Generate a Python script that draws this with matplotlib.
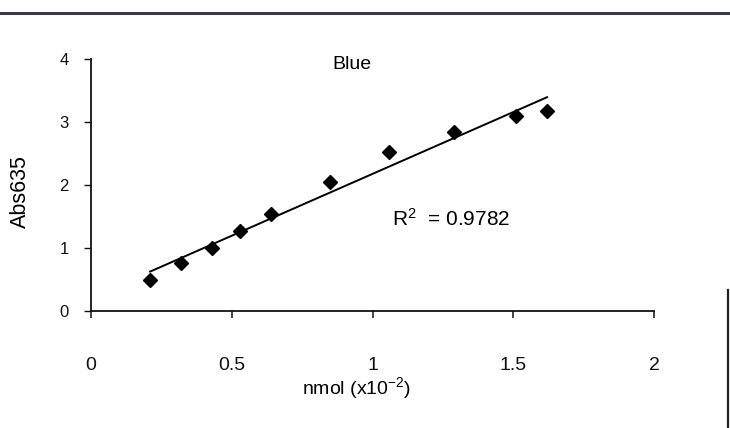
import numpy as np
import matplotlib
matplotlib.use("Agg")
import matplotlib.pyplot as plt
from matplotlib.lines import Line2D

plt.rcParams["font.family"] = ["Liberation Sans", "DejaVu Sans"]
plt.rcParams["mathtext.fontset"] = "custom"
plt.rcParams["mathtext.rm"] = "Liberation Sans"
plt.rcParams["mathtext.it"] = "Liberation Sans"

# Absorbance at 635 nm versus amount of dye (nmol x 10^-2)
nmol = [0.21, 0.32, 0.43, 0.53, 0.64, 0.85, 1.06, 1.29, 1.51, 1.62]
abs635 = [0.49, 0.76, 1.00, 1.27, 1.54, 2.05, 2.52, 2.84, 3.10, 3.17]
x_ticks = [0, 0.5, 1, 1.5, 2]
x_tick_labels = ["0", "0.5", "1", "1.5", "2"]
y_ticks = [0, 1, 2, 3, 4]
r_squared = "0.9782"

fig = plt.figure(figsize=(7.30, 4.28), dpi=100)
ax = fig.add_axes([91 / 730, 1 - 311 / 428, (654 - 91) / 730, (311 - 59) / 428])

x = np.array(nmol)
y = np.array(abs635)
slope, intercept = np.polyfit(x, y, 1)
xf = np.array([x.min(), x.max()])
ax.plot(xf, slope * xf + intercept, color="black", lw=1.4, zorder=2)
ax.plot(x, y, linestyle="none", marker="D", markersize=7.3,
        color="black", zorder=3)

ax.set_xlim(0, 2)
ax.set_ylim(0, 4)
ax.set_xticks(x_ticks)
ax.set_xticklabels(x_tick_labels)
ax.set_yticks(y_ticks)

for side in ("top", "right"):
    ax.spines[side].set_visible(False)
for side in ("left", "bottom"):
    ax.spines[side].set_linewidth(1.3)
    ax.spines[side].set_color("#111111")

ax.tick_params(axis="x", direction="out", length=5, width=1.1,
               labelsize=14, pad=28, colors="#111111")
ax.tick_params(axis="y", direction="out", length=5, width=1.0,
               labelsize=12, pad=11, colors="#111111")

ax.text(0.927, 3.92, "Blue", fontsize=14, ha="center", va="center")
ax.text(1.07, 1.47, r"R$^{\mathregular{2}}$  = " + r_squared,
        fontsize=15, ha="left", va="center")

fig.text(357 / 730, 1 - 388 / 428, r"nmol (x10$^{\mathregular{-2}}$)",
         fontsize=14, ha="center", va="center")
fig.text(20 / 730, 1 - 192 / 428, "Abs635", fontsize=15.5, rotation=90,
         ha="center", va="center")

# scanned page edges
fig.add_artist(Line2D([0, 1], [1 - 13 / 428, 1 - 13 / 428],
                      transform=fig.transFigure, color="#3a3a4a", lw=2.2))
fig.add_artist(Line2D([728 / 730, 728 / 730], [0, 1 - 290 / 428],
                      transform=fig.transFigure, color="#222222", lw=1.6))

fig.savefig("out.png", dpi=100)
